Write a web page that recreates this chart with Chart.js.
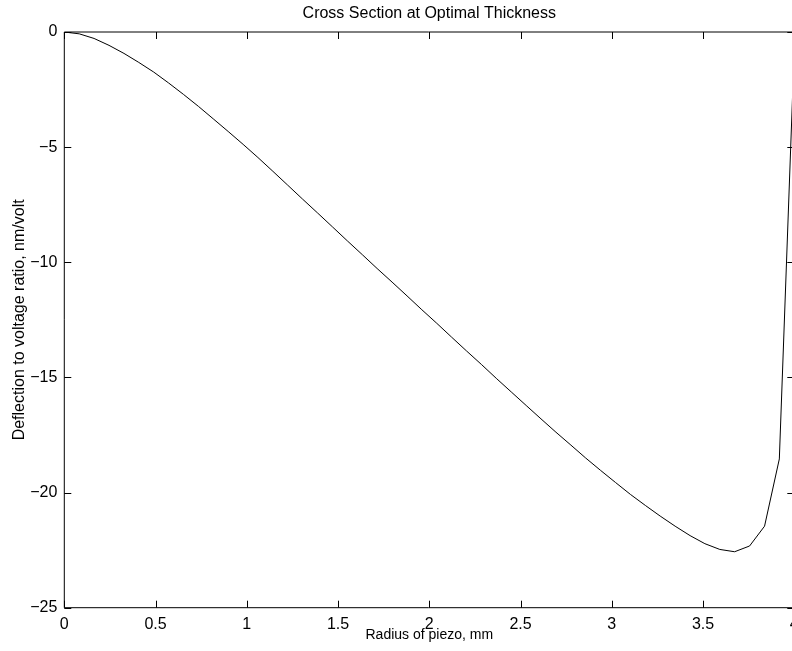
<!DOCTYPE html>
<html>
<head>
<meta charset="utf-8">
<script src="https://cdn.jsdelivr.net/npm/chart.js@4/dist/chart.umd.min.js"></script>
<style>
  html, body { margin: 0; padding: 0; background: #fff; overflow: hidden; }
</style>
</head>
<body>
<canvas id="myChart" width="792" height="651"></canvas>
<script>
"use strict";
// radius of piezo (mm) and deflection (nm/volt)
const radius = [0, 0.082, 0.163, 0.245, 0.327, 0.408, 0.49, 0.571, 0.653, 0.735,
  0.816, 0.898, 0.98, 1.061, 1.143, 1.224, 1.306, 1.388, 1.469, 1.551,
  1.633, 1.714, 1.796, 1.878, 1.959, 2.041, 2.122, 2.204, 2.286, 2.367,
  2.449, 2.531, 2.612, 2.694, 2.776, 2.857, 2.939, 3.02, 3.102, 3.184,
  3.265, 3.347, 3.429, 3.51, 3.592, 3.673, 3.755, 3.837, 3.918, 4.0];
const deflection = [0, -0.08, -0.28, -0.58, -0.93, -1.32, -1.74, -2.21, -2.71, -3.23,
  -3.77, -4.32, -4.88, -5.45, -6.05, -6.65, -7.26, -7.86, -8.46, -9.07,
  -9.67, -10.27, -10.86, -11.46, -12.06, -12.65, -13.25, -13.85, -14.44, -15.04,
  -15.63, -16.22, -16.8, -17.38, -17.94, -18.5, -19.04, -19.56, -20.08, -20.56,
  -21.02, -21.46, -21.87, -22.22, -22.47, -22.57, -22.32, -21.46, -18.54, -0.7];
const xTicks = [0, 0.5, 1, 1.5, 2, 2.5, 3, 3.5, 4];
const yTicks = [-25, -20, -15, -10, -5, 0];

const titleText = "Cross Section at Optimal Thickness";
const xLabel = "Radius of piezo, mm";
const yLabel = "Deflection to voltage ratio, nm/volt";

const FONT = '"Liberation Sans", Arial, Helvetica, sans-serif';
const PLOT_RIGHT = 794.3; // the original axes run a little past the window edge
const ctx = document.getElementById("myChart");

// stretch the plot area past the canvas edge, like the original figure
const stretch = {
  id: "stretch",
  afterLayout(chart) {
    const xs = chart.scales.x;
    chart.chartArea.right = PLOT_RIGHT;
    chart.chartArea.width = PLOT_RIGHT - chart.chartArea.left;
    xs.right = PLOT_RIGHT;
    xs.width = PLOT_RIGHT - xs.left;
    xs.configure();
  },
};

// box, inward tick marks and the text around the axes
const frame = {
  id: "frame",
  afterDraw(chart) {
    const c = chart.ctx;
    const a = chart.chartArea;
    const xs = chart.scales.x;
    const ys = chart.scales.y;
    const tl = 7;
    c.save();
    c.strokeStyle = "#000";
    c.lineWidth = 1;
    c.beginPath();
    c.rect(a.left, a.top, a.right - a.left, a.bottom - a.top);
    xTicks.forEach((v) => {
      const px = Math.round(xs.getPixelForValue(v)) + 0.5;
      c.moveTo(px, a.bottom); c.lineTo(px, a.bottom - tl);
      c.moveTo(px, a.top); c.lineTo(px, a.top + tl);
    });
    yTicks.forEach((v) => {
      const py = Math.round(ys.getPixelForValue(v)) + 0.5;
      c.moveTo(a.left, py); c.lineTo(a.left + tl, py);
      c.moveTo(a.right, py); c.lineTo(a.right - tl, py);
    });
    c.stroke();

    c.fillStyle = "#000";
    c.textAlign = "center";
    c.textBaseline = "alphabetic";
    const cx = (a.left + a.right) / 2;
    c.font = "16px " + FONT;
    c.fillText(titleText, cx, 18);
    c.font = "14px " + FONT;
    c.fillText(xLabel, cx, 639);
    c.font = "16px " + FONT;
    c.translate(24, (a.top + a.bottom) / 2);
    c.rotate(-Math.PI / 2);
    c.fillText(yLabel, 0, 0);
    c.restore();
  },
};

const myChart = new Chart(ctx, {
  type: "line",
  data: {
    datasets: [
      {
        data: radius.map((r, i) => ({ x: r, y: deflection[i] })),
        borderColor: "#000",
        borderWidth: 1,
        pointRadius: 0,
        tension: 0,
        fill: false,
      },
    ],
  },
  options: {
    responsive: false,
    animation: false,
    events: [],
    layout: { padding: { left: 0, top: 32, right: 0, bottom: 0 } },
    plugins: { legend: { display: false }, tooltip: { enabled: false } },
    scales: {
      x: {
        type: "linear",
        min: 0,
        max: 4,
        afterFit: (s) => { s.height = 43.3; },
        afterBuildTicks: (s) => { s.ticks = xTicks.map((v) => ({ value: v })); },
        grid: { display: false, drawTicks: false },
        border: { display: false },
        ticks: {
          color: "#000",
          padding: 7,
          maxRotation: 0,
          autoSkip: false,
          font: { family: FONT, size: 16 },
          callback: (v) => String(v),
        },
      },
      y: {
        type: "linear",
        min: -25,
        max: 0,
        afterFit: (s) => { s.width = 64.3; },
        afterBuildTicks: (s) => { s.ticks = yTicks.map((v) => ({ value: v })); },
        grid: { display: false, drawTicks: false },
        border: { display: false },
        ticks: {
          color: "#000",
          padding: 7,
          autoSkip: false,
          font: { family: FONT, size: 16 },
          callback: (v) => String(v).replace("-", "\u2212"),
        },
      },
    },
  },
  plugins: [stretch, frame],
});
</script>
</body>
</html>
